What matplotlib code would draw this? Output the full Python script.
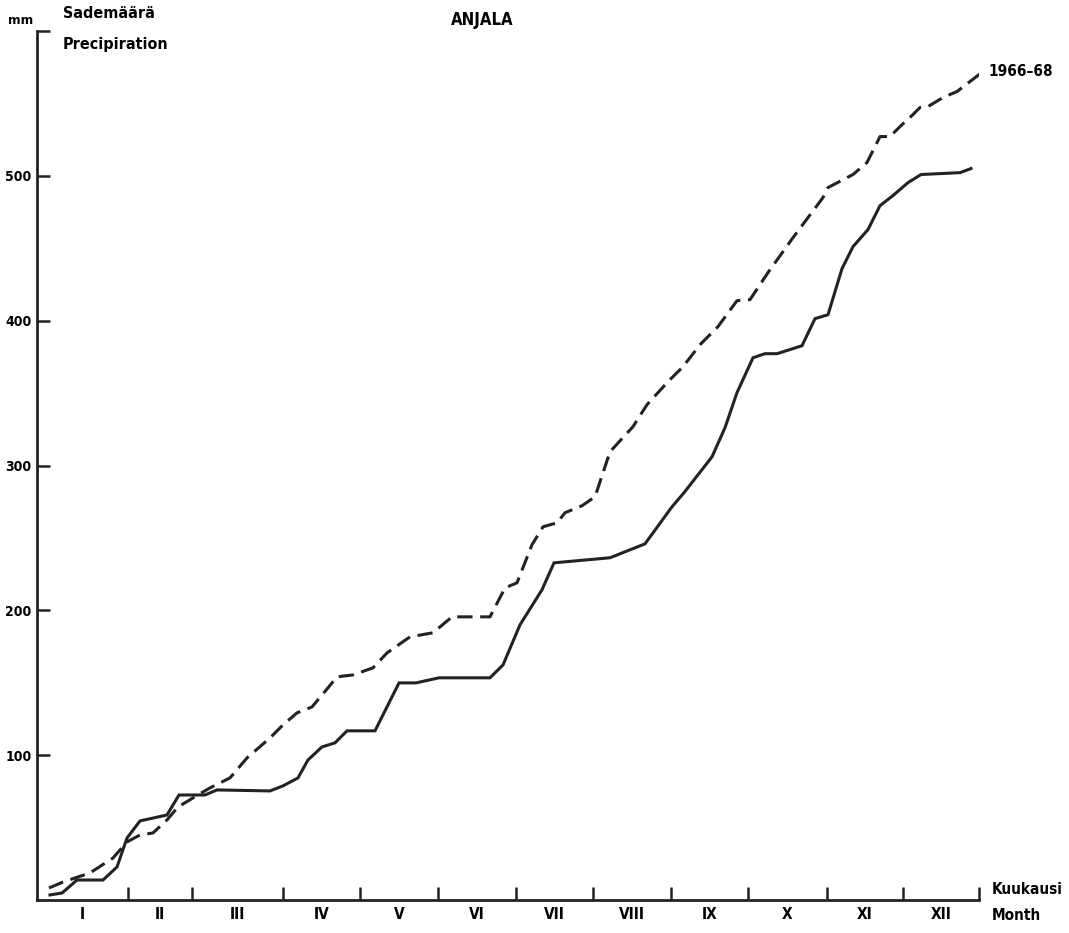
import matplotlib
matplotlib.use("Agg")
import matplotlib.pyplot as plt

# horizontal position along the time axis (same units as month_edges)
month_edges = [0, 91, 155, 246, 323, 401, 479, 556, 634, 711, 790, 866, 942]
month_names = ["I", "II", "III", "IV", "V", "VI", "VII", "VIII", "IX", "X", "XI", "XII"]

# solid curve (cumulative precipitation, mm)
solid_x = [13, 25, 40, 66, 80, 90, 103, 130, 142, 168, 180, 233, 246, 261, 271, 285,
           298, 310, 338, 362, 379, 402, 453, 466, 483, 505, 517, 573, 608, 635, 647,
           675, 688, 700, 716, 728, 740, 765, 778, 791, 805, 816, 831, 843, 856, 871,
           884, 923, 934]
solid_y = [3.5, 4.8, 13.8, 13.8, 22.8, 42.8, 54.6, 58.7, 72.5, 72.5, 76.0, 75.3, 78.8,
           84.3, 96.7, 105.7, 108.5, 116.8, 116.8, 149.9, 149.9, 153.4, 153.4, 162.3,
           190.0, 214.2, 232.8, 236.3, 245.9, 271.5, 281.2, 306.0, 326.1, 350.3, 374.4,
           377.2, 377.2, 382.7, 401.4, 404.1, 435.9, 451.1, 462.9, 479.4, 486.4, 495.3,
           500.9, 502.2, 505.0]

# dashed curve, 1966-68
dash_x = [12, 26, 53, 76, 90, 103, 116, 130, 141, 156, 173, 193, 210, 233, 246, 260,
          275, 291, 300, 316, 336, 350, 373, 396, 415, 453, 468, 480, 495, 506, 520,
          528, 545, 558, 568, 573, 596, 610, 631, 646, 663, 681, 700, 713, 731, 756,
          768, 786, 791, 816, 830, 838, 843, 853, 863, 876, 883, 891, 906, 920, 946]
dash_y = [8.3, 12.4, 18.7, 29.0, 40.1, 44.9, 46.3, 55.3, 64.2, 70.5, 77.4, 84.3, 98.1,
          111.9, 120.9, 129.2, 133.3, 146.5, 154.1, 155.4, 160.3, 170.6, 181.7, 184.5,
          195.5, 195.5, 215.5, 219.0, 245.3, 257.7, 260.4, 267.4, 272.2, 278.4, 299.1,
          309.5, 326.8, 342.0, 357.9, 368.2, 383.4, 395.9, 413.8, 414.5, 433.2, 457.3,
          468.4, 485.0, 491.9, 500.9, 509.2, 520.2, 527.1, 527.1, 534.0, 542.3, 547.2,
          547.8, 554.1, 558.2, 572.0]

y_ticks = [100, 200, 300, 400, 500, 600]
y_labels = ["100", "200", "300", "400", "500", ""]

TXT = dict(fontfamily=["DejaVu Sans"], fontweight="bold", fontstretch="condensed")
INK = "#222222"

fig = plt.figure(figsize=(10.69, 9.33), dpi=100)
ax = fig.add_axes([37 / 1069, 33 / 933, 942 / 1069, 869 / 933])

ax.plot(solid_x, solid_y, color=INK, lw=2.2, solid_joinstyle="miter")
ax.plot(dash_x, dash_y, color=INK, lw=2.2, linestyle=(0, (5, 2.5)))

ax.set_xlim(0, 942)
ax.set_ylim(0, 600)

for s in ["top", "right"]:
    ax.spines[s].set_visible(False)
for s in ["left", "bottom"]:
    ax.spines[s].set_linewidth(2)
    ax.spines[s].set_color(INK)

ax.set_yticks(y_ticks)
ax.set_yticklabels(y_labels, fontsize=10, **TXT)
ax.tick_params(axis="y", direction="in", length=9.5, width=1.8, color=INK, pad=4)

# month boundary ticks
ax.set_xticks(month_edges[1:])
ax.set_xticklabels([])
ax.tick_params(axis="x", which="major", direction="in", length=9.5, width=1.8, color=INK)

# month names between the boundaries
centers = [(a + b) / 2 for a, b in zip(month_edges[:-1], month_edges[1:])]
ax.set_xticks(centers, minor=True)
ax.set_xticklabels(month_names, minor=True, fontsize=11, **TXT)
ax.tick_params(axis="x", which="minor", length=0, pad=5)

ax.annotate("1966\u201368", xy=(946, 572), xytext=(4, 0), textcoords="offset points",
            fontsize=11, va="center", ha="left", annotation_clip=False, **TXT)

fig.text(8 / 1069, 1 - 20 / 933, "mm", fontsize=9.5, va="center", ha="left", **TXT)
fig.text(63 / 1069, 1 - 14 / 933, "Sademäärä", fontsize=11.5, va="center", ha="left", **TXT)
fig.text(63 / 1069, 1 - 45 / 933, "Precipiration", fontsize=11.5, va="center", ha="left", **TXT)
fig.text(482 / 1069, 1 - 20 / 933, "ANJALA", fontsize=12, va="center", ha="center", **TXT)
fig.text(992 / 1069, 1 - 890 / 933, "Kuukausi", fontsize=11, va="center", ha="left", **TXT)
fig.text(992 / 1069, 1 - 916 / 933, "Month", fontsize=11, va="center", ha="left", **TXT)

fig.savefig("out.png", dpi=100, facecolor="white")
